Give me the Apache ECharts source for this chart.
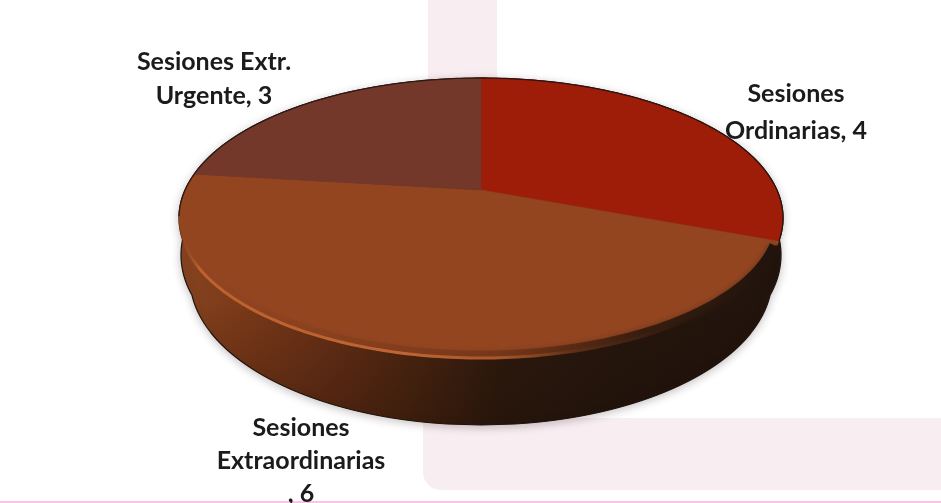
<!DOCTYPE html>
<html><head><meta charset="utf-8">
<style>html,body{margin:0;padding:0;background:#fff}#c{width:941px;height:503px}</style>
<script src="https://cdn.jsdelivr.net/npm/echarts@6/dist/echarts.min.js"></script>
</head><body><div id="c"></div>
<script>
const sliceNames = ['Sesiones\nOrdinarias', 'Sesiones\nExtraordinarias\n', 'Sesiones Extr.\nUrgente'];
const sliceValues = [4, 6, 3];
const sliceColors = ['#9e1d09', '#934520', '#74382b'];
const labelCenters = [[796, 112], [301, 461], [214, 79]];
const labelLineHeights = [37, 33, 34];
const disc = { cx: 481, cy: 218, rx: 302, ry: 140, skew: -0.2 };
const rimOutlines = [ { cy: 278, rx: 291, ry: 147 }, { cy: 255, rx: 300, ry: 150 } ];
const total = sliceValues.reduce((a, b) => a + b, 0);
const G = echarts.graphic;

function project(theta) {
  const u = Math.sin(theta), v = -Math.cos(theta), b = disc.skew, d = 1 + b * v;
  return [disc.cx + disc.rx * u * Math.sqrt(1 - b * b) / d, disc.cy + disc.ry * (v + b) / d];
}
function arc(a0, a1) {
  const pts = [], n = Math.max(8, Math.ceil((a1 - a0) * 60));
  for (let i = 0; i <= n; i++) pts.push(project(a0 + (a1 - a0) * i / n));
  return pts;
}
function hgrad(stops) {
  return new G.LinearGradient(180, 0, 783, 0, stops.map(s => ({ offset: (s[0] - 180) / 603, color: s[1] })), true);
}
function halfWidth(y) {
  let w = 0;
  const all = rimOutlines.concat([{ cy: disc.cy, rx: disc.rx, ry: disc.ry }]);
  all.forEach(o => {
    const k = (y - o.cy) / o.ry;
    if (Math.abs(k) < 1) w = Math.max(w, o.rx * Math.sqrt(1 - k * k));
  });
  return w;
}
function silhouette() {
  const right = [], left = [];
  const top = disc.cy - disc.ry, bottom = rimOutlines[0].cy + rimOutlines[0].ry;
  for (let y = top; y <= bottom; y += 1) {
    const w = halfWidth(y);
    right.push([disc.cx + w, y]);
    left.unshift([disc.cx - w, y]);
  }
  return right.concat(left);
}
function renderRim() {
  const pts = silhouette();
  return { type: 'group', children: [
    { type: 'polygon', shape: { points: pts }, style: {
      fill: hgrad([[180,'#854320'],[240,'#7c3a18'],[320,'#6a3016'],[410,'#4e2610'],[500,'#2f1a0e'],[620,'#26160d'],[783,'#21140c']]),
      stroke: '#20140e', lineWidth: 1.2,
      shadowColor: 'rgba(60,40,40,0.28)', shadowBlur: 9, shadowOffsetY: 2 } },
    { type: 'polygon', shape: { points: pts }, style: {
      fill: new G.LinearGradient(0, 300, 0, 425, [
        { offset: 0, color: 'rgba(20,10,5,0)' }, { offset: 1, color: 'rgba(20,10,5,0.32)' }], true) } }
  ] };
}
function renderSlice(params, api) {
  const i = params.dataIndex;
  const before = sliceValues.slice(0, i).reduce((a, b) => a + b, 0);
  const a0 = before / total * Math.PI * 2;
  const a1 = (before + api.value(0)) / total * Math.PI * 2;
  const centre = [disc.cx, disc.cy + disc.ry * disc.skew];
  const poly = [centre].concat(arc(a0, a1));
  const c = labelCenters[i];
  return { type: 'group', children: [
    { type: 'polygon', shape: { points: poly }, style: { fill: sliceColors[i], stroke: sliceColors[i], lineWidth: 0.6 } },
    { type: 'text', z2: 10, style: {
      x: c[0], y: c[1], text: sliceNames[i] + ', ' + api.value(0),
      fontFamily: 'Lato', fontWeight: 'bold', fontSize: 25, lineHeight: labelLineHeights[i],
      fill: '#1b1b1d', align: 'center', verticalAlign: 'middle' } }
  ] };
}
function renderEdge() {
  const a = Math.PI * 2;
  const split = a * sliceValues[0] / total;
  const lower = arc(split + 0.03, a * 0.74);
  const inner = lower.map(p => [disc.cx + (p[0] - disc.cx) * 0.988, disc.cy + (p[1] - disc.cy) * 0.975]);
  const fade = hgrad([[180,'rgba(125,62,28,0)'],[500,'rgba(70,32,14,0.3)'],[640,'rgba(40,22,12,0.8)'],[783,'rgba(30,19,12,1)']]);
  const upperL = arc(a * 0.72, a);
  const upperR = arc(0, split);
  return { type: 'group', children: [
    { type: 'polyline', shape: { points: inner }, style: { fill: 'none', lineWidth: 8, stroke: fade,
      shadowColor: 'rgba(40,22,12,0.4)', shadowBlur: 6 } },
    { type: 'polyline', shape: { points: lower }, style: { fill: 'none', lineWidth: 3,
      stroke: hgrad([[180,'rgba(150,75,35,0)'],[200,'#bd622d'],[400,'#c06533'],[500,'#a9562a'],[580,'#5a2c15'],[680,'#2c180d'],[783,'#21140c']]) } },
    { type: 'polyline', shape: { points: upperL }, style: { fill: 'none', stroke: '#2b1a16', lineWidth: 1.3 } },
    { type: 'polyline', shape: { points: upperR }, style: { fill: 'none', stroke: '#2b1412', lineWidth: 1.3 } }
  ] };
}
const chart = echarts.init(document.getElementById('c'), null, { renderer: 'canvas' });
chart.setOption({
  animation: false,
  backgroundColor: '#ffffff',
  graphic: [
    { type: 'rect', shape: { x: 428, y: 0, width: 69, height: 470 }, style: { fill: '#f8edf1' }, silent: true },
    { type: 'rect', shape: { x: 423, y: 418, width: 540, height: 72, r: [0, 0, 0, 18] }, style: { fill: '#f8edf1' }, silent: true },
    { type: 'rect', shape: { x: 0, y: 501, width: 941, height: 2 }, style: { fill: '#fbc4e4' }, silent: true }
  ],
  series: [
    { type: 'custom', coordinateSystem: 'none', silent: true, z: 2, data: [[total]], renderItem: renderRim },
    { type: 'custom', coordinateSystem: 'none', silent: true, z: 3, data: sliceValues.map(v => [v]), renderItem: renderSlice },
    { type: 'custom', coordinateSystem: 'none', silent: true, z: 4, data: [[total]], renderItem: renderEdge }
  ]
});
</script></body></html>
